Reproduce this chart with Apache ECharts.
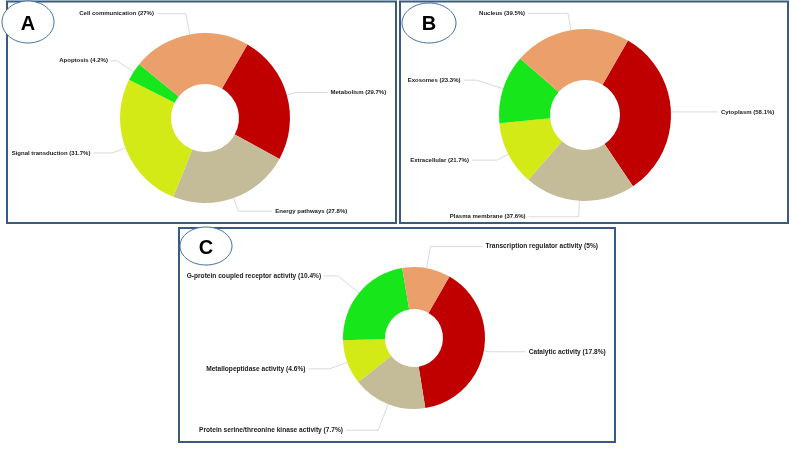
<!DOCTYPE html>
<html>
<head>
<meta charset="utf-8">
<script src="https://cdn.jsdelivr.net/npm/echarts@6/dist/echarts.min.js"></script>
<style>
html,body{margin:0;padding:0;background:#fff;}
#chart{width:791px;height:451px;}
</style>
</head>
<body>
<div id="chart"></div>
<script>
// ---- data ----
const categoriesA = ['Metabolism', 'Energy pathways', 'Signal transduction', 'Apoptosis', 'Cell communication'];
const valuesA = [29.7, 27.8, 31.7, 4.2, 27];

const categoriesB = ['Cytoplasm', 'Plasma membrane', 'Extracellular', 'Exosomes', 'Nucleus'];
const valuesB = [58.1, 37.6, 21.7, 23.3, 39.5];

const categoriesC = ['Catalytic activity', 'Protein serine/threonine kinase activity', 'Metallopeptidase activity', 'G-protein coupled receptor activity', 'Transcription regulator activity'];
const valuesC = [17.8, 7.7, 4.6, 10.4, 5];

const panelLetters = ['A', 'B', 'C'];

// ---- styles ----
const palette = ['#c00000', '#c4bc98', '#d3ea16', '#17e61b', '#eba06c'];
const lineLenA = [[10, 31], [14, 34], [14, 19], [20, 6], [21, 29]];
const lineLenB = [[5, 42], [16, 50], [13, 25], [28, 13], [17, 40]];
const lineLenC = [[5, 37], [28, 32], [19, 21], [27, 14], [22, 52]];

function buildData(names, values, lens) {
  return names.map((n, i) => ({
    name: n,
    value: values[i],
    itemStyle: { color: palette[i] },
    labelLine: { length: lens[i][0], length2: lens[i][1] }
  }));
}

function pieSeries(names, values, lens, center, radius, fontSize) {
  return {
    type: 'pie',
    center: center,
    radius: radius,
    startAngle: 60,
    clockwise: true,
    avoidLabelOverlap: false,
    silent: true,
    label: {
      show: true,
      position: 'outside',
      alignTo: 'none',
      distanceToLabelLine: 3,
      formatter: '{b} ({c}%)',
      fontFamily: 'Liberation Sans',
      fontWeight: 'bold',
      fontSize: fontSize,
      color: '#1a1a1a'
    },
    labelLine: {
      show: true,
      smooth: false,
      lineStyle: { color: '#cfcfcf', width: 0.8 }
    },
    itemStyle: { borderWidth: 0 },
    emphasis: { disabled: true },
    data: buildData(names, values, lens)
  };
}

const panelBorder = '#3a5a80';
const ellipseStroke = '#41719c';

const chart = echarts.init(document.getElementById('chart'), null, { renderer: 'canvas' });
chart.setOption({
  animation: false,
  backgroundColor: '#ffffff',
  graphic: [
    { type: 'rect', shape: { x: 7, y: 1.5, width: 389, height: 221.5 }, style: { fill: 'none', stroke: panelBorder, lineWidth: 2 } },
    { type: 'rect', shape: { x: 400, y: 1.5, width: 388, height: 221.5 }, style: { fill: 'none', stroke: panelBorder, lineWidth: 2 } },
    { type: 'rect', shape: { x: 179, y: 228, width: 436, height: 214 }, style: { fill: 'none', stroke: panelBorder, lineWidth: 2 } },
    { type: 'ellipse', shape: { cx: 28, cy: 22, rx: 26, ry: 21 }, style: { fill: '#fff', stroke: ellipseStroke, lineWidth: 1 } },
    { type: 'ellipse', shape: { cx: 429, cy: 23, rx: 27, ry: 20 }, style: { fill: '#fff', stroke: ellipseStroke, lineWidth: 1 } },
    { type: 'ellipse', shape: { cx: 206, cy: 246, rx: 26, ry: 19 }, style: { fill: '#fff', stroke: ellipseStroke, lineWidth: 1 } },
    { type: 'text', x: 28, y: 24, style: { text: panelLetters[0], fontSize: 20, fontWeight: 'bold', fontFamily: 'Liberation Sans', fill: '#000', textAlign: 'center', textVerticalAlign: 'middle' } },
    { type: 'text', x: 429, y: 24, style: { text: panelLetters[1], fontSize: 20, fontWeight: 'bold', fontFamily: 'Liberation Sans', fill: '#000', textAlign: 'center', textVerticalAlign: 'middle' } },
    { type: 'text', x: 206, y: 248, style: { text: panelLetters[2], fontSize: 20, fontWeight: 'bold', fontFamily: 'Liberation Sans', fill: '#000', textAlign: 'center', textVerticalAlign: 'middle' } }
  ],
  series: [
    pieSeries(categoriesA, valuesA, lineLenA, [205, 118], [34, 85], 6),
    pieSeries(categoriesB, valuesB, lineLenB, [585, 115], [35, 86], 6),
    pieSeries(categoriesC, valuesC, lineLenC, [414, 338], [29, 71], 6.6)
  ]
});
</script>
</body>
</html>
